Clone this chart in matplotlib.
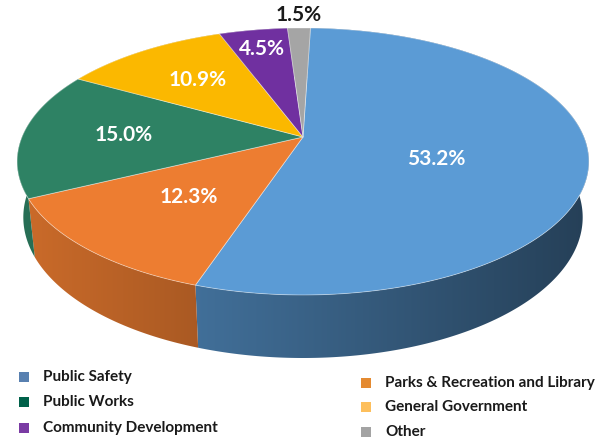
import numpy as np
import matplotlib
matplotlib.use('Agg')
import matplotlib.pyplot as plt
from matplotlib.collections import PolyCollection
from matplotlib.patches import Rectangle, Polygon
from matplotlib.colors import to_rgb

# data (clockwise from the top)
categories = ['Public Safety', 'Parks & Recreation and Library', 'Public Works',
              'General Government', 'Community Development', 'Other']
shares = [53.2, 12.3, 15.0, 10.9, 4.5, 1.5]

top_colors = ['#5B9BD5', '#ED7D31', '#2E8264', '#FBB800', '#7030A0', '#A5A5A5']
legend_colors = ['#5880B0', '#E48A31', '#00614A', '#FDBF5C', '#7A3BA3', '#A3A3A3']

# label placement: radius (fraction of pie radius) and angle tweak in degrees
label_r = [0.49, 0.57, 0.64, 0.63, 0.80, 1.15]
label_shift = [10, 0, 0, 0, 0, 0]
label_color = ['white'] * 5 + ['#1a1a1a']

plt.rcParams['font.family'] = ['Lato', 'DejaVu Sans']

# simple perspective camera for the 3d pie
cx, cy, k = 303.0, 137.0, 281.0
sa = 0.459
ca = np.sqrt(1 - sa**2)
D = 4.84
depth = 0.225
start = 1.8  # degrees clockwise from 12 o'clock


def proj(x, z, y=0.0):
    v = y*ca - z*sa
    w = y*sa + z*ca
    s = D/(D - w)
    return cx + k*x*s, cy - k*v*s


frac = np.array(shares)/np.sum(shares)
edges = np.concatenate([[0], np.cumsum(frac)])*360 + start

fig = plt.figure(figsize=(6.09, 4.42), dpi=100)
ax = fig.add_axes([0, 0, 1, 1])

# side wall: a horizontal shading gradient clipped to each slice's band
xs = np.linspace(0, 609, 610)
shade = 0.86 - 0.45*(xs - 16)/572
for i in range(len(shares)):
    t = np.radians(np.linspace(edges[i], edges[i+1], 300))
    top = [proj(np.sin(a), -np.cos(a)) for a in t]
    bot = [proj(np.sin(a), -np.cos(a), -depth) for a in t[::-1]]
    band = Polygon(top + bot, closed=True, fc='none', ec='none')
    ax.add_patch(band)
    img = np.array(to_rgb(top_colors[i]))[None, None, :]*shade[None, :, None]
    im = ax.imshow(np.clip(img, 0, 1), extent=(0, 609, 442, 0), aspect='auto',
                   interpolation='bilinear', zorder=1)
    im.set_clip_path(band)

# top face
wedges = []
for i in range(len(shares)):
    t = np.radians(np.linspace(edges[i], edges[i+1], 200))
    pts = [proj(0, 0)] + [proj(np.sin(a), -np.cos(a)) for a in t]
    wedges.append(pts)
ax.add_collection(PolyCollection(wedges, facecolors=top_colors, zorder=2,
                                 edgecolors=(1, 1, 1, 0.45), linewidths=0.6))

# percentage labels
for i, v in enumerate(shares):
    m = np.radians((edges[i] + edges[i+1])/2 + label_shift[i])
    lx, ly = proj(label_r[i]*np.sin(m), -label_r[i]*np.cos(m))
    ax.text(lx, ly, f'{v:.1f}%', ha='center', va='center', fontsize=15,
            fontweight='bold', color=label_color[i], zorder=3)

# legend, two columns
leg_x = [24, 366, 24, 366, 24, 366]
leg_y = [377, 383, 402, 407, 428, 432]
for i, name in enumerate(categories):
    ax.add_patch(Rectangle((leg_x[i] - 5, leg_y[i] - 5), 10, 10,
                           color=legend_colors[i], lw=0))
    ax.text(leg_x[i] + 19, leg_y[i], name, ha='left', va='center',
            fontsize=11, fontweight='bold', color='#1a1a1a')

ax.set_xlim(0, 609)
ax.set_ylim(442, 0)
ax.axis('off')

fig.savefig('out.png', dpi=100)
